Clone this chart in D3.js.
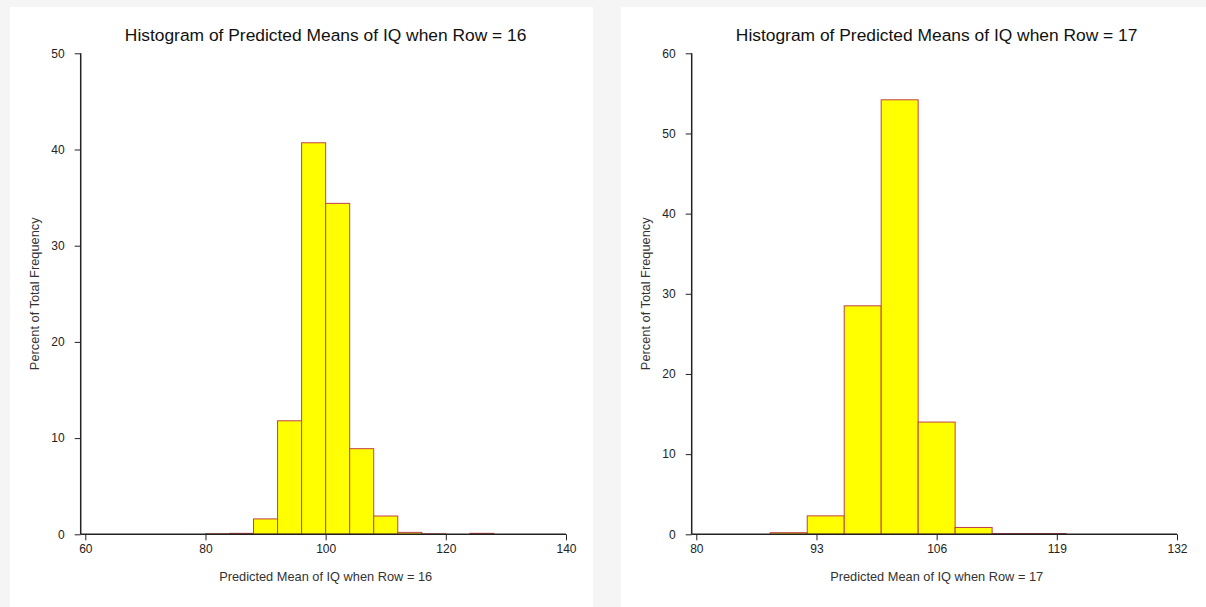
<!DOCTYPE html>
<html><head><meta charset="utf-8">
<script src="https://cdn.jsdelivr.net/npm/d3@7"></script>
<style>
html,body{margin:0;padding:0;background:#f5f5f5;}
svg{display:block;}
text{font-family:Arial,"Liberation Sans",sans-serif;}
</style></head>
<body>
<svg id="c" width="1206" height="607"></svg>
<script>
// Chart 1 (Row = 16)
const title1 = "Histogram of Predicted Means of IQ when Row = 16";
const xLabel1 = "Predicted Mean of IQ when Row = 16";
const binStarts1 = [80, 84, 88, 92, 96, 100, 104, 108, 112, 116, 124];
const percents1 = [0.05, 0.1, 1.6, 11.8, 40.7, 34.4, 8.9, 1.9, 0.2, 0.05, 0.1];
const xTicks1 = [60, 80, 100, 120, 140];
const yTicks1 = [0, 10, 20, 30, 40, 50];

// Chart 2 (Row = 17)
const title2 = "Histogram of Predicted Means of IQ when Row = 17";
const xLabel2 = "Predicted Mean of IQ when Row = 17";
const binStarts2 = [88, 92, 96, 100, 104, 108, 112, 116];
const percents2 = [0.2, 2.3, 28.5, 54.2, 14.0, 0.85, 0.1, 0.1];
const xTicks2 = [80, 93, 106, 119, 132];
const yTicks2 = [0, 10, 20, 30, 40, 50, 60];

const binWidth = 4;
const yLabel = "Percent of Total Frequency";

const svg = d3.select("#c");

function drawPanel(cfg) {
  const g = svg.append("g");
  g.append("rect").attr("x", cfg.px).attr("y", 7).attr("width", cfg.pw).attr("height", 600).attr("fill", "#fff");

  const x = d3.scaleLinear().domain([cfg.xTicks[0], cfg.xTicks[cfg.xTicks.length-1]]).range([cfg.x0, cfg.x1]);
  const y = d3.scaleLinear().domain([0, cfg.yTicks[cfg.yTicks.length-1]]).range([534.3, 53.3]);

  const data = cfg.starts.map((s, i) => ({s, v: cfg.vals[i]}));
  g.selectAll("rect.bar").data(data).enter().append("rect").attr("class", "bar")
    .attr("x", d => x(d.s))
    .attr("width", d => x(d.s + binWidth) - x(d.s))
    .attr("y", d => y(d.v))
    .attr("height", d => y(0) - y(d.v))
    .attr("fill", "#ffff00")
    .attr("stroke", "#c0404a")
    .attr("stroke-width", 1);

  // x axis
  const xa = g.append("g").attr("transform", `translate(0,${y(0)})`)
    .call(d3.axisBottom(x).tickValues(cfg.xTicks).tickSize(6).tickSizeOuter(0).tickPadding(4));
  xa.select(".domain").remove();
  xa.append("line").attr("x1", cfg.yAxisX).attr("x2", cfg.x1).attr("y1", 0).attr("y2", 0).attr("stroke", "#222").attr("stroke-width", 1.5);
  xa.selectAll(".tick line").attr("stroke", "#222");
  xa.selectAll(".tick text").attr("fill", "#222").style("font-size", "12px");

  // y axis
  const ya = g.append("g").attr("transform", `translate(${cfg.yAxisX},0)`)
    .call(d3.axisLeft(y).tickValues(cfg.yTicks).tickSize(6).tickSizeOuter(0).tickPadding(10));
  ya.select(".domain").remove();
  ya.append("line").attr("x1", 0).attr("x2", 0).attr("y1", y(0)).attr("y2", y(cfg.yTicks[cfg.yTicks.length-1])).attr("stroke", "#222").attr("stroke-width", 1.5);
  ya.selectAll(".tick line").attr("stroke", "#222");
  ya.selectAll(".tick text").attr("fill", "#222").style("font-size", "12px");

  // titles
  g.append("text").attr("x", (cfg.x0 + cfg.x1) / 2).attr("y", 41).attr("text-anchor", "middle")
    .style("font-size", "17.4px").attr("fill", "#111").text(cfg.title);
  g.append("text").attr("x", (cfg.x0 + cfg.x1) / 2).attr("y", 581).attr("text-anchor", "middle")
    .style("font-size", "12.8px").attr("fill", "#333").text(cfg.xLabel);
  g.append("text").attr("transform", `translate(${cfg.yLabX},${(y(0) + y(cfg.yTicks[cfg.yTicks.length-1])) / 2}) rotate(-90)`)
    .attr("text-anchor", "middle").style("font-size", "12.8px").attr("fill", "#333").text(yLabel);
}

drawPanel({px: 10, pw: 583, x0: 85.3, x1: 566, yAxisX: 80.7, yLabX: 39, title: title1, xLabel: xLabel1,
  starts: binStarts1, vals: percents1, xTicks: xTicks1, yTicks: yTicks1});
drawPanel({px: 621, pw: 585, x0: 696.3, x1: 1177, yAxisX: 691.7, yLabX: 650, title: title2, xLabel: xLabel2,
  starts: binStarts2, vals: percents2, xTicks: xTicks2, yTicks: yTicks2});
</script>
</body></html>
